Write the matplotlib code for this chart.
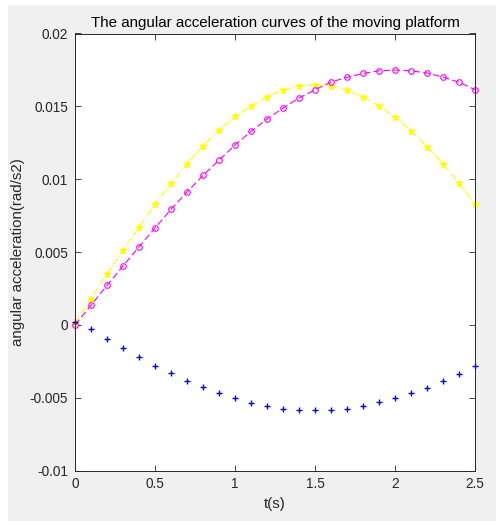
import matplotlib
matplotlib.use("Agg")
import matplotlib.pyplot as plt
from matplotlib.patches import Rectangle

t = [round(0.1 * i, 1) for i in range(26)]

alpha_yellow = [0.0001, 0.00179, 0.00349, 0.00513, 0.00673, 0.00829, 0.00971, 0.01106,
                0.01230, 0.01337, 0.01431, 0.01502, 0.01566, 0.01612, 0.01637, 0.01648,
                0.01641, 0.01610, 0.01566, 0.01502, 0.01429, 0.01330, 0.01223, 0.01104,
                0.00971, 0.00829]
alpha_magenta = [0.0, 0.00134, 0.00271, 0.00404, 0.00536, 0.00665, 0.00793, 0.00912,
                 0.01026, 0.01131, 0.01234, 0.01328, 0.01413, 0.01488, 0.01557, 0.01614,
                 0.01667, 0.01699, 0.01726, 0.01744, 0.01749, 0.01744, 0.01729, 0.01701,
                 0.01665, 0.01614]
alpha_blue = [0.0002, -0.00031, -0.00095, -0.00161, -0.00223, -0.00283, -0.00333, -0.00384,
              -0.00427, -0.00468, -0.00505, -0.00535, -0.00557, -0.00578, -0.00585, -0.00585,
              -0.00585, -0.00578, -0.00557, -0.00532, -0.00505, -0.00468, -0.00434, -0.00384,
              -0.00338, -0.00283]

xticks = [0, 0.5, 1, 1.5, 2, 2.5]
xticklabels = ["0", "0.5", "1", "1.5", "2", "2.5"]
yticks = [-0.01, -0.005, 0, 0.005, 0.01, 0.015, 0.02]
yticklabels = ["-0.01", "-0.005", "0", "0.005", "0.01", "0.015", "0.02"]

plt.rcParams['font.family'] = ['Liberation Sans', 'DejaVu Sans']

fig = plt.figure(figsize=(4.96, 5.21), dpi=100, facecolor='white')
fig.patches.append(Rectangle((8 / 496, 0), 1, 516 / 521, transform=fig.transFigure,
                             facecolor='#f0f0f0', edgecolor='none', zorder=-10))
ax = fig.add_axes([75 / 496, 50.5 / 521, 400 / 496, 437 / 521])
ax.set_facecolor('white')

ax.plot(t, alpha_yellow, linestyle='-.', color='#ffff00', marker='*', markersize=4.5,
        linewidth=0.8, clip_on=False)
ax.plot(t, alpha_magenta, linestyle='--', color='#ff00ff', marker='o', markersize=4,
        markerfacecolor='none', markeredgewidth=0.8, linewidth=0.8, dashes=(6, 3),
        clip_on=False)
ax.plot(t, alpha_blue, linestyle='none', color='#0000ff', marker='+', markersize=5,
        markeredgewidth=1.0, clip_on=False)

ax.set_xlim(0, 2.5)
ax.set_ylim(-0.01, 0.02)
ax.set_xticks(xticks)
ax.set_xticklabels(xticklabels)
ax.set_yticks(yticks)
ax.set_yticklabels(yticklabels)
ax.tick_params(direction='in', length=4, width=0.6, colors='#262626', labelsize=9.8,
               top=True, right=True, labeltop=False, labelright=False, pad=5)
for s in ax.spines.values():
    s.set_linewidth(0.7)
    s.set_color('#262626')

ax.set_title('The angular acceleration curves of the moving platform', fontsize=10.9,
             color='black', pad=5)
ax.set_xlabel('t(s)', fontsize=10.9, color='#262626', labelpad=4)
ax.set_ylabel('angular acceleration(rad/s2)', fontsize=10.9, color='#262626', labelpad=3)

fig.savefig('out.png', dpi=100, facecolor=fig.get_facecolor())
